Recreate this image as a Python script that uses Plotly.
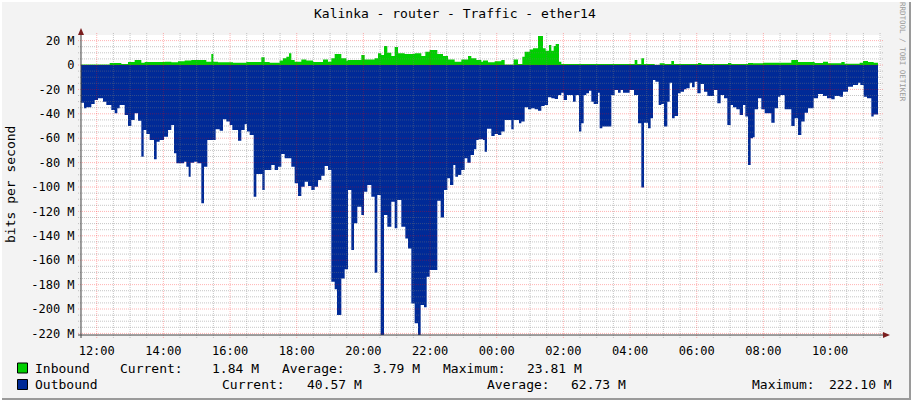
import pandas as pd
import plotly.graph_objects as go

# ---------------- data (minutes since graph start, values in Mbit/s) ----------------
START = pd.Timestamp("2024-05-14 11:31:42")
END_MIN = 1434.6
SPAN_MIN = 1440

OUT_MIN = [0, 5.4, 9.6, 18.6, 24.6, 30.6, 39.6, 45.6, 54.6, 60.6, 65.4, 69.6, 78.6, 84.6, 90.6, 96.6,
           102.6, 108.6, 112.8, 117.6, 123.6, 131.4, 136.2, 141.6, 149.4, 156.6, 162.6, 167.4, 171.6,
           185.4, 189.6, 193.8, 197.4, 203.4, 209.4, 216.6, 221.4, 227.4, 242.4, 249.6, 255.6, 261.6,
           267.6, 272.4, 282.6, 288.6, 294.6, 298.8, 303.6, 310.8, 315.6, 326.4, 330.6, 342.6, 348.6,
           354.6, 360.6, 366.6, 378.6, 384.6, 390.6, 396.6, 402.6, 408.6, 414.6, 420.6, 426.6, 432.6,
           438.6, 444.6, 450.6, 456.6, 460.8, 468.6, 474.6, 480.6, 486.6, 491.4, 497.4, 504.6, 509.4,
           515.4, 522.6, 528.6, 533.4, 539.4, 545.4, 551.4, 558.6, 564.6, 569.4, 576.6, 583.8, 588.6,
           594.6, 600.6, 606.6, 611.4, 617.4, 622.2, 627.6, 641.4, 647.4, 653.4, 659.4, 664.2, 670.2,
           673.8, 678.6, 684.6, 690.6, 695.4, 701.4, 707.4, 711.6, 715.8, 723.6, 726.6, 730.8, 738.6,
           744.6, 750.6, 756.6, 762.6, 774.6, 778.8, 788.4, 792.6, 798.6, 804.6, 810.6, 816.6, 822.6,
           828.6, 834.6, 840.6, 846.6, 852.6, 858.6, 864.6, 868.8, 874.8, 885.6, 890.4, 896.4, 900.6,
           904.8, 909.6, 914.4, 918.6, 922.8, 930.6, 933.6, 938.4, 954.6, 960.6, 966.6, 971.4, 975.6,
           987.6, 995.4, 1002.6, 1008.6, 1013.4, 1020.6, 1025.4, 1029.6, 1033.8, 1039.8, 1044.6, 1049.4,
           1055.4, 1059.6, 1063.8, 1068.6, 1074.6, 1079.4, 1085.4, 1089.6, 1095.6, 1099.8, 1104.6, 1109.4,
           1115.4, 1121.4, 1127.4, 1139.4, 1145.4, 1151.4, 1157.4, 1163.4, 1169.4, 1173.6, 1179.6, 1185.6,
           1191.6, 1195.8, 1200.6, 1205.4, 1209.6, 1212.6, 1218.6, 1224.6, 1230.6, 1242.6, 1248.6, 1254.6,
           1258.8, 1266.6, 1278.6, 1284.6, 1290.6, 1296.6, 1302.6, 1308.6, 1318.8, 1326.6, 1335.6, 1342.8,
           1350.6, 1356.6, 1365.6, 1371.6, 1380.6, 1389.6, 1398.6, 1402.8, 1408.8, 1414.8, 1422.6, 1426.8]
OUT_VAL = [-31.0, -35.5, -34.7, -32.0, -28.7, -27.3, -30.1, -32.8, -36.9, -39.6, -35.5, -32.8, -41.0, -50.0,
           -45.1, -39.6, -45.6, -75.1, -53.3, -56.6, -61.5, -77.3, -62.8, -61.5, -58.7, -53.3, -49.2, -72.4,
           -80.6, -79.2, -83.3, -91.5, -80.1, -79.2, -80.6, -113.4, -83.3, -61.5, -52.7, -53.8, -44.5, -46.4,
           -49.2, -53.3, -62.0, -53.3, -48.6, -54.6, -57.4, -107.9, -89.3, -102.5, -86.1, -82.0, -86.1,
           -83.3, -73.0, -76.5, -83.3, -97.0, -107.4, -99.7, -95.6, -99.2, -102.5, -99.7, -94.3, -90.7,
           -82.8, -86.1, -177.6, -183.9, -204.9, -174.9, -167.5, -102.5, -151.6, -129.8, -116.1, -123.0,
           -103.8, -98.4, -107.9, -170.2, -106.6, -221.3, -123.0, -132.5, -112.0, -133.9, -110.7, -132.5,
           -142.1, -150.3, -195.4, -211.7, -222.1, -196.7, -198.6, -173.5, -168.0, -111.2, -124.9, -102.5,
           -92.9, -98.4, -82.0, -91.5, -90.2, -86.1, -76.5, -80.1, -73.8, -69.1, -61.5, -60.9, -61.5, -71.0,
           -52.2, -58.2, -56.6, -57.4, -54.6, -45.1, -52.7, -45.1, -47.8, -46.4, -34.7, -36.3, -35.5, -36.3,
           -37.4, -33.6, -32.8, -26.5, -27.3, -27.9, -24.6, -22.7, -28.7, -24.6, -30.1, -24.6, -54.6, -47.8,
           -24.6, -23.2, -21.0, -30.1, -32.0, -22.7, -51.9, -50.5, -24.6, -20.5, -22.7, -20.5, -22.7,
           -20.5, -24.6, -47.8, -100.3, -47.3, -51.9, -43.7, -12.3, -13.7, -32.8, -32.0, -50.5,
           -30.1, -14.5, -43.7, -41.8, -23.2, -21.9, -19.9, -19.1, -14.5, -18.3, -13.7, -23.2,
           -15.6, -21.9, -25.4, -20.5, -31.4, -24.6, -27.3, -49.2, -32.8, -34.7, -36.3, -41.0,
           -32.8, -42.3, -82.0, -60.1, -59.3, -36.3, -27.3, -36.3, -39.6, -47.3, -35.5, -26.0,
           -24.6, -36.3, -50.0, -43.7, -57.4, -46.4, -39.1, -35.5, -27.3, -23.8, -25.4, -27.3,
           -28.1, -25.4, -26.0, -21.9, -17.8, -16.4, -14.5, -16.4, -26.0, -27.3, -42.3, -40.57]

IN_MIN = [0, 51.6, 72.6, 84.6, 96.6, 108.6, 114.6, 150.6, 162.6, 174.6, 186.6, 198.6, 225.6, 234.6, 238.2,
          246.6, 273.6, 297.6, 324.6, 330.6, 339.6, 357.6, 363.6, 369.6, 374.4, 378.6, 384.6, 396.6, 405.6,
          417.6, 435.6, 444.6, 450.6, 456.6, 468.6, 477.6, 480.6, 504.6, 510.6, 528.6, 534.6, 540.6, 545.4,
          551.4, 558.6, 564.6, 570.6, 582.6, 600.6, 612.6, 619.8, 627.6, 641.4, 651.6, 660.6, 672.6, 684.6,
          696.6, 702.6, 711.6, 720.6, 723.6, 732.6, 744.6, 756.6, 762.6, 778.8, 786.6, 794.4, 798.6, 807.6,
          813.6, 822.6, 831.6, 836.4, 842.4, 846.6, 850.8, 854.4, 860.4, 864.6, 996.6, 1001.4, 1008.6,
          1013.4, 1032.6, 1041.6, 1050.6, 1062.6, 1067.4, 1110.6, 1116.6, 1164.6, 1170.6, 1200.6, 1209.6,
          1227.6, 1278.6, 1290.6, 1320.6, 1335.6, 1344.6, 1368.6, 1374.6, 1401.6, 1407.6, 1416.6, 1426.8]
IN_VAL = [0.5, 1.6, 0.8, 2.5, 4.1, 1.9, 2.5, 2.7, 2.2, 3.0, 3.6, 4.1, 2.7, 9.0, 2.7,
          2.2, 1.9, 2.5, 6.3, 2.5, 1.9, 3.6, 5.5, 6.8, 9.6, 4.1, 2.7, 4.6, 3.6,
          2.5, 4.6, 2.7, 5.5, 9.0, 5.5, 3.6, 4.1, 8.2, 4.6, 5.5, 9.6, 8.2, 15.6,
          10.1, 7.4, 14.8, 9.6, 9.0, 9.6, 7.4, 10.9, 12.3, 9.0, 7.4, 4.6, 2.7, 4.6,
          7.4, 5.5, 4.1, 2.7, 3.6, 2.2, 3.0, 4.1, 0.5, 4.6, 0.8, 6.8, 10.9, 12.8,
          13.7, 23.81, 13.7, 11.7, 16.4, 11.7, 15.6, 17.2, 2.7, 0.8, 4.1, 0.8, 5.5,
          0.8, 0.3, 1.4, 0.8, 3.3, 0.8, 1.6, 0.8, 1.6, 0.8, 1.6, 1.4,
          1.9, 4.1, 2.5, 1.6, 2.7, 1.4, 2.5, 1.1, 1.9, 3.3, 2.5, 1.84]

Y_TICKS = [20, 0, -20, -40, -60, -80, -100, -120, -140, -160, -180, -200, -220]
Y_TICKTEXT = ["20 M", "0", "-20 M", "-40 M", "-60 M", "-80 M", "-100 M", "-120 M", "-140 M",
              "-160 M", "-180 M", "-200 M", "-220 M"]
X_TICKTEXT = ["12:00", "14:00", "16:00", "18:00", "20:00", "22:00", "00:00", "02:00",
              "04:00", "06:00", "08:00", "10:00"]

TITLE = "Kalinka - router - Traffic - ether14"
LEGEND_IN = [("Inbound", 33, "left"), ("Current:", 118, "left"), ("1.84 M", 261, "right"),
             ("Average:", 280, "left"), ("3.79 M", 422, "right"),
             ("Maximum:", 441, "left"), ("23.81 M", 584, "right")]
LEGEND_OUT = [("Outbound", 33, "left"), ("Current:", 220, "left"), ("40.57 M", 364, "right"),
              ("Average:", 485, "left"), ("62.73 M", 628, "right"),
              ("Maximum:", 750, "left"), ("222.10 M", 894, "right")]

GREEN = "#00CF00"
BLUE = "#002A97"
FONT = "DejaVu Sans Mono"

# ---------------- geometry helpers (pixel -> paper) ----------------
W, H = 911, 400
L, R, T, B = 81, 30, 35, 65
PW, PH = W - L - R, H - T - B


def px(x):
    return (x - L) / PW


def py(y):
    return (H - B - y) / PH


def tm(m):
    return START + pd.to_timedelta(m, unit="min")


Y_MIN, Y_MAX = -221.3, 24.6

out_x = [tm(m) for m in OUT_MIN] + [tm(END_MIN)]
out_y = OUT_VAL + [OUT_VAL[-1]]
in_x = [tm(m) for m in IN_MIN] + [tm(END_MIN)]
in_y = IN_VAL + [IN_VAL[-1]]

fig = go.Figure()
fig.add_trace(go.Scatter(x=in_x, y=in_y, mode="lines", line=dict(width=0, shape="hv", color=GREEN),
                         fill="tozeroy", fillcolor=GREEN, name="Inbound", hoverinfo="skip"))
fig.add_trace(go.Scatter(x=out_x, y=out_y, mode="lines", line=dict(width=0, shape="hv", color=BLUE),
                         fill="tozeroy", fillcolor=BLUE, name="Outbound", hoverinfo="skip"))

GRID_MAJOR = "rgba(255,0,0,0.30)"
GRID_MINOR = "rgba(120,120,120,0.42)"
shapes = []
# horizontal grid (every 5 M minor, every 20 M major)
for v in range(-220, 25, 5):
    major = v % 20 == 0
    shapes.append(dict(type="line", xref="paper", yref="y", x0=px(78), x1=px(884), y0=v, y1=v,
                       line=dict(color=GRID_MAJOR if major else GRID_MINOR,
                                 width=1, dash="1px,1px"), layer="above"))
# vertical grid (every 30 min minor, every 2 h major)
first = pd.Timestamp(START.strftime("%Y-%m-%d %H:00")) + pd.Timedelta(minutes=30)
t = first
end_t = tm(SPAN_MIN)
tickvals = []
while t < end_t:
    major = (t.minute == 0 and t.hour % 2 == 0)
    if major:
        tickvals.append(t)
    shapes.append(dict(type="line", xref="x", yref="paper", x0=t, x1=t, y0=py(338), y1=py(32),
                       line=dict(color=GRID_MAJOR if major else GRID_MINOR,
                                 width=1, dash="1px,1px"), layer="above"))
    t += pd.Timedelta(minutes=30)

AXC = "#404040"
ARROW = "#7A1E1E"
# axes lines
shapes.append(dict(type="line", xref="paper", yref="paper", x0=px(81), x1=px(81), y0=py(338), y1=py(31),
                   line=dict(color=AXC, width=1), layer="above"))
shapes.append(dict(type="line", xref="paper", yref="paper", x0=px(78), x1=px(884), y0=py(335), y1=py(335),
                   line=dict(color=AXC, width=1), layer="above"))
# arrow heads
shapes.append(dict(type="path", xref="paper", yref="paper",
                   path=f"M {px(78)},{py(35)} L {px(84)},{py(35)} L {px(81)},{py(28)} Z",
                   fillcolor=ARROW, line=dict(width=0), layer="above"))
shapes.append(dict(type="path", xref="paper", yref="paper",
                   path=f"M {px(883)},{py(332)} L {px(883)},{py(338)} L {px(890)},{py(335)} Z",
                   fillcolor=ARROW, line=dict(width=0), layer="above"))
# legend swatches
for (c, yc) in [(GREEN, 368), (BLUE, 384.5)]:
    shapes.append(dict(type="rect", xref="paper", yref="paper", x0=px(17.5), x1=px(27.5),
                       y0=py(yc + 5), y1=py(yc - 5), fillcolor=c, line=dict(color="#000000", width=1)))
# frame (3D border like rrdtool)
shapes.append(dict(type="line", xref="paper", yref="paper", x0=px(0), x1=px(911), y0=py(399), y1=py(399),
                   line=dict(color="#9A9A9A", width=2)))
shapes.append(dict(type="line", xref="paper", yref="paper", x0=px(910), x1=px(910), y0=py(0), y1=py(400),
                   line=dict(color="#9A9A9A", width=2)))
shapes.append(dict(type="line", xref="paper", yref="paper", x0=px(0), x1=px(911), y0=py(1), y1=py(1),
                   line=dict(color="#FFFFFF", width=2)))
shapes.append(dict(type="line", xref="paper", yref="paper", x0=px(1), x1=px(1), y0=py(0), y1=py(400),
                   line=dict(color="#FFFFFF", width=2)))

annotations = []
annotations.append(dict(text=TITLE, xref="paper", yref="paper", x=px(455), y=py(14), showarrow=False,
                        xanchor="center", yanchor="middle", font=dict(family=FONT, size=13, color="#000")))
annotations.append(dict(text="bits per second", xref="paper", yref="paper", x=px(10), y=py(185),
                        showarrow=False, textangle=-90, xanchor="center", yanchor="middle",
                        font=dict(family=FONT, size=13, color="#000")))
annotations.append(dict(text="RRDTOOL / TOBI OETIKER", xref="paper", yref="paper", x=px(902), y=py(52),
                        showarrow=False, textangle=90, xanchor="center", yanchor="middle",
                        font=dict(family=FONT, size=7.5, color="#9A9A9A")))
for items, yc in [(LEGEND_IN, 368), (LEGEND_OUT, 384)]:
    for txt, xp, anc in items:
        annotations.append(dict(text=txt, xref="paper", yref="paper", x=px(xp), y=py(yc), showarrow=False,
                                xanchor=anc, yanchor="middle",
                                font=dict(family=FONT, size=13, color="#000")))

fig.update_layout(
    width=W, height=H,
    margin=dict(l=L, r=R, t=T, b=B, pad=0),
    paper_bgcolor="#F3F3F3", plot_bgcolor="#FFFFFF",
    showlegend=False,
    shapes=shapes, annotations=annotations,
    xaxis=dict(type="date", range=[START, tm(SPAN_MIN)], tickvals=tickvals, ticktext=X_TICKTEXT,
               showgrid=False, zeroline=False, showline=False, ticks="outside", ticklen=5,
               tickcolor="rgba(0,0,0,0)", fixedrange=True,
               tickfont=dict(family=FONT, size=12, color="#000")),
    yaxis=dict(range=[Y_MIN, Y_MAX], tickvals=Y_TICKS, ticktext=Y_TICKTEXT, showgrid=False,
               zeroline=False, showline=False, ticks="outside", ticklen=3, tickcolor="rgba(0,0,0,0)",
               fixedrange=True, tickfont=dict(family=FONT, size=12, color="#000")),
)

fig.write_html("out.html", config={"displayModeBar": False},
               post_script="document.body.style.margin='0';document.body.style.padding='0';")
